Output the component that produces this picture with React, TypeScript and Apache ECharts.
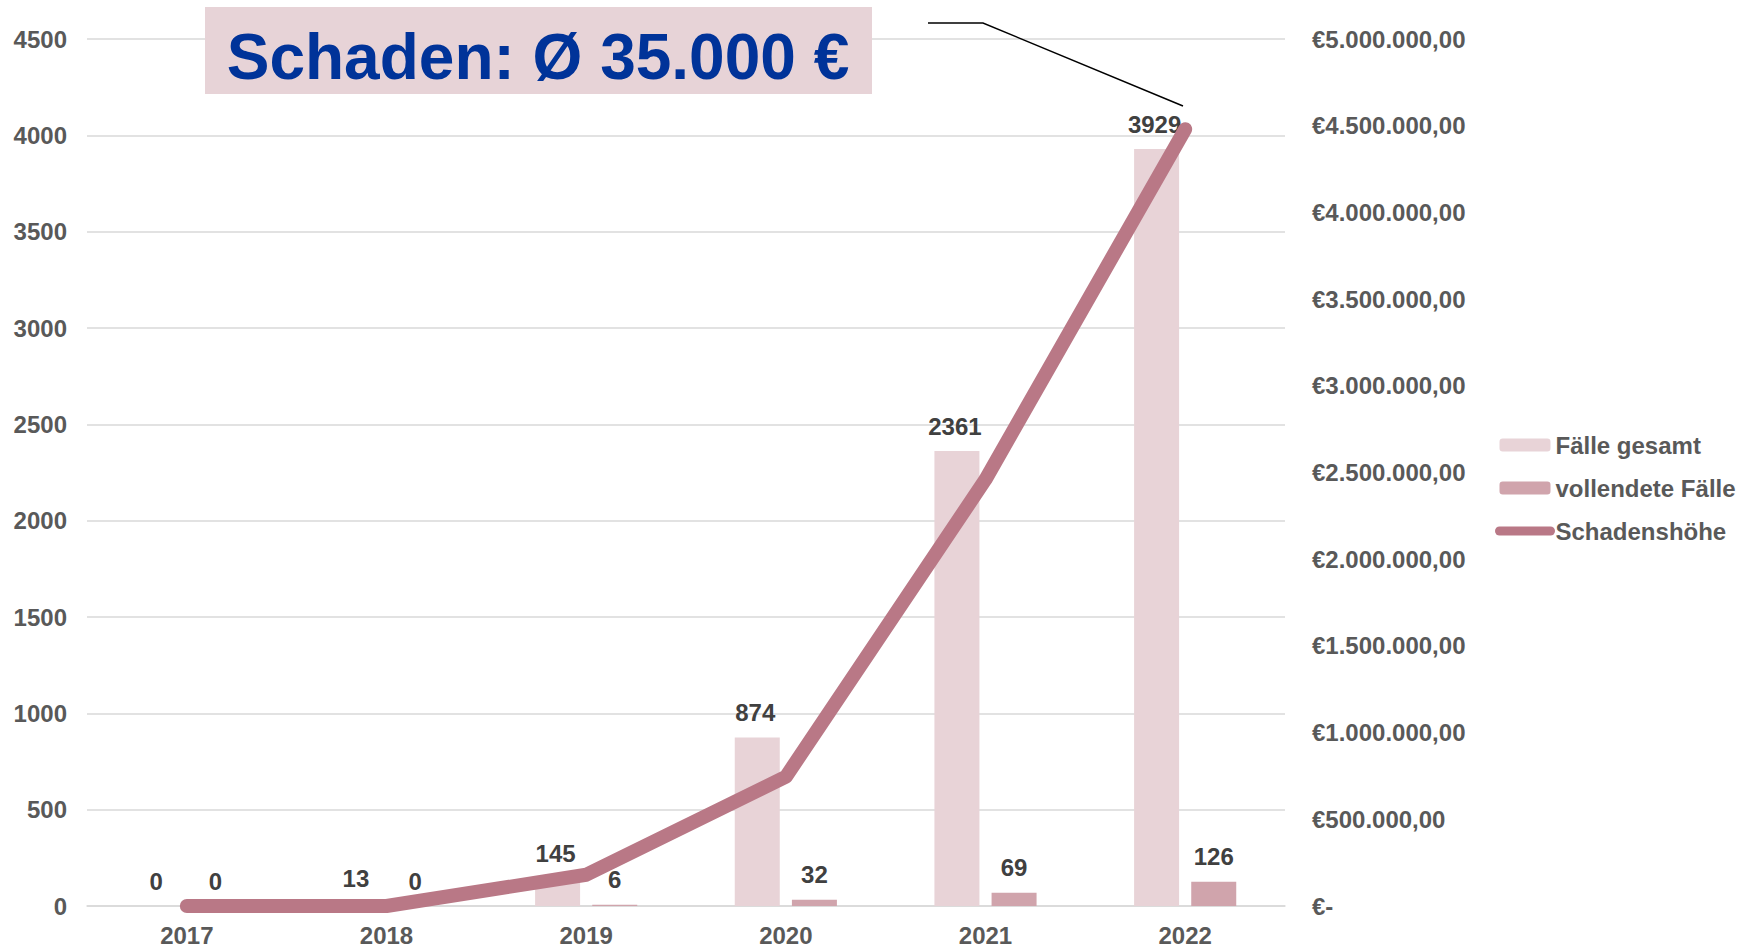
import React, { useEffect, useRef } from "react";
import * as echarts from "echarts";

const years = ["2017", "2018", "2019", "2020", "2021", "2022"];
const faelleGesamt = [0, 13, 145, 874, 2361, 3929];
const vollendeteFaelle = [0, 0, 6, 32, 69, 126];
const schadenshoehe = [0, 0, 180000, 745000, 2460000, 4480000];
const leftTicks = { min: 0, max: 4500, interval: 500 };
const rightTicks = { min: 0, max: 5000000, interval: 500000 };
const titleText = "Schaden: Ø 35.000 €";

const FONT = "'Liberation Sans', Arial, sans-serif";

function formatEuro(v: number): string {
  if (v === 0) return "€-";
  const s = Math.round(v).toString().replace(/\B(?=(\d{3})+(?!\d))/g, ".");
  return "€" + s + ",00";
}

export default function App() {
  const ref = useRef<HTMLDivElement>(null);
  useEffect(() => {
    document.body.style.margin = "0";
    if (!ref.current) return;
    const chart = echarts.init(ref.current, null, { renderer: "svg" });
    const barLabel = (dx: number) => ({
      show: true,
      position: "top" as const,
      distance: 13,
      offset: [dx, 0],
      fontFamily: FONT,
      fontSize: 24,
      fontWeight: "bold" as const,
      color: "#404040",
    });
    chart.setOption({
      animation: false,
      backgroundColor: "#ffffff",
      textStyle: { fontFamily: FONT },
      grid: { left: 87, right: 456, top: 39, bottom: 43, containLabel: false },
      legend: {
        orient: "vertical",
        left: 1490,
        top: 428,
        itemWidth: 51,
        itemHeight: 13,
        itemGap: 19,
        textStyle: { fontFamily: FONT, fontSize: 24, fontWeight: "bold", color: "#595959" },
        lineStyle: { width: 9, cap: "round" },
        data: [
          "Fälle gesamt",
          "vollendete Fälle",
          { name: "Schadenshöhe", itemStyle: { opacity: 0 } },
        ],
      },
      xAxis: {
        type: "category",
        data: years,
        axisTick: { show: false },
        axisLine: { lineStyle: { color: "#d9d9d9", width: 1.5 } },
        axisLabel: {
          margin: 17,
          fontFamily: FONT,
          fontSize: 24,
          fontWeight: "bold",
          color: "#595959",
        },
      },
      yAxis: [
        {
          type: "value",
          min: leftTicks.min,
          max: leftTicks.max,
          interval: leftTicks.interval,
          axisLine: { show: false },
          axisTick: { show: false },
          splitLine: { lineStyle: { color: "#d9d9d9", width: 1.5 } },
          axisLabel: {
            margin: 20,
            fontFamily: FONT,
            fontSize: 24,
            fontWeight: "bold",
            color: "#595959",
            formatter: (v: number) => String(v),
          },
        },
        {
          type: "value",
          min: rightTicks.min,
          max: rightTicks.max,
          interval: rightTicks.interval,
          axisLine: { show: false },
          axisTick: { show: false },
          splitLine: { show: false },
          axisLabel: {
            margin: 27,
            fontFamily: FONT,
            fontSize: 24,
            fontWeight: "bold",
            color: "#595959",
            formatter: (v: number) => formatEuro(v),
          },
        },
      ],
      series: [
        {
          name: "Fälle gesamt",
          type: "bar",
          data: faelleGesamt,
          barWidth: 45,
          barGap: "27%",
          itemStyle: { color: "#e8d3d7" },
          label: barLabel(-2),
          z: 2,
        },
        {
          name: "vollendete Fälle",
          type: "bar",
          data: vollendeteFaelle,
          barWidth: 45,
          barGap: "27%",
          itemStyle: { color: "#d0a4ac" },
          label: barLabel(0),
          z: 2,
        },
        {
          name: "Schadenshöhe",
          type: "line",
          yAxisIndex: 1,
          data: schadenshoehe,
          symbol: "none",
          showSymbol: false,
          itemStyle: { color: "#b97886" },
          lineStyle: { color: "#b97886", width: 14, cap: "round", join: "round" },
          z: 3,
        },
      ],
      graphic: [
        {
          type: "rect",
          shape: { x: 205, y: 7, width: 667, height: 87 },
          style: { fill: "#e7d3d7" },
          z: 10,
        },
        {
          type: "text",
          x: 538,
          y: 57,
          style: {
            text: titleText,
            fontFamily: FONT,
            fontSize: 64,
            fontWeight: "bold",
            fill: "#003399",
            align: "center",
            verticalAlign: "middle",
          },
          z: 11,
        },
        {
          type: "polyline",
          shape: { points: [[928, 23], [983, 23], [1183, 106]] },
          style: { stroke: "#000000", lineWidth: 1.5, fill: "none" },
          z: 10,
        },
      ],
    });
    return () => chart.dispose();
  }, []);
  return <div ref={ref} style={{ width: 1741, height: 949 }} />;
}
